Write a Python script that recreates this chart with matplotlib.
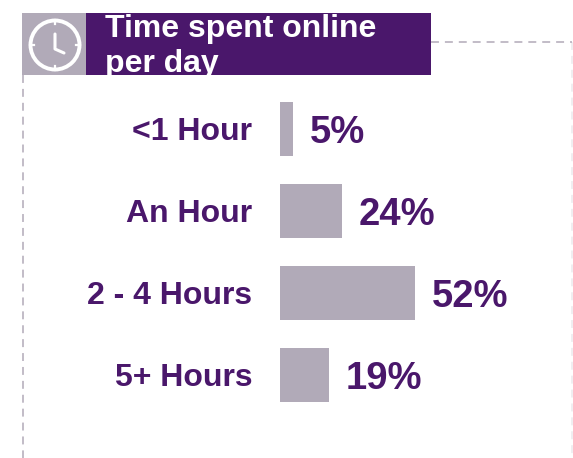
import matplotlib
matplotlib.use('Agg')
import matplotlib.pyplot as plt
from matplotlib.patches import Circle, Rectangle

plt.rcParams['font.family'] = ['Liberation Sans', 'DejaVu Sans']

categories = ['<1 Hour', 'An Hour', '2 - 4 Hours', '5+ Hours']
shares = [5, 24, 52, 19]
title_lines = ['Time spent online', 'per day']

purple = '#4a176b'
grey = '#b1aab8'

W, H = 573, 458
fig = plt.figure(figsize=(W/100, H/100), dpi=100)
fig.patch.set_facecolor('white')

## Full figure overlay in pixel coords for the frame and header
bg = fig.add_axes([0, 0, 1, 1])
bg.set_xlim(0, W)
bg.set_ylim(H, 0)
bg.axis('off')

bg.plot([431, 572], [42, 42], color=grey, lw=1.1, dashes=(5.2, 3.9))
bg.plot([572, 572], [42, 458], color=grey, lw=1.1, dashes=(5.2, 3.9), alpha=0.25)
bg.plot([22.5, 22.5], [75, 458], color=grey, lw=1.1, dashes=(5.2, 3.9))

bg.add_patch(Rectangle((22, 13), 64, 62, fc=grey, ec='none'))
header = Rectangle((86, 13), 345, 62, fc=purple, ec='none')
bg.add_patch(header)

## Clock icon
bg.add_patch(Circle((55, 45), 24.5, fc='none', ec='white', lw=2.8))
bg.plot([55, 55, 64], [34, 49, 53], color='white', lw=2.2, solid_capstyle='round')
for x0, y0, x1, y1 in [(55, 20, 55, 24), (55, 66, 55, 70), (30, 45, 34, 45), (76, 45, 80, 45)]:
	bg.plot([x0, x1], [y0, y1], color='white', lw=1.6)

t1 = bg.text(105, 37, title_lines[0], color='white', fontsize=23, fontweight='bold', va='baseline', ha='left')
t2 = bg.text(105, 72, title_lines[1], color='white', fontsize=23, fontweight='bold', va='baseline', ha='left')
t1.set_clip_path(header)
t2.set_clip_path(header)

## Bars, 2.6 px per percent
ax = fig.add_axes([280/W, 1 - 416/H, 260/W, 328/H])
ax.patch.set_alpha(0)
ax.set_xlim(0, 100)
ax.set_ylim(3.5, -0.5)
ax.barh(range(len(shares)), shares, height=0.67, color=grey)
ax.set_yticks(range(len(categories)))
ax.set_yticklabels(categories, fontsize=23, fontweight='bold', color=purple)
ax.tick_params(axis='y', length=0, pad=20)
ax.set_xticks([])
for s in ax.spines.values():
	s.set_visible(False)

for i, v in enumerate(shares):
	ax.annotate(str(v) + '%', (v, i), xytext=(12, -3), textcoords='offset points',
		fontsize=27.5, fontweight='bold', color=purple, va='center', ha='left', annotation_clip=False)

plt.savefig('out.png', dpi=100)
